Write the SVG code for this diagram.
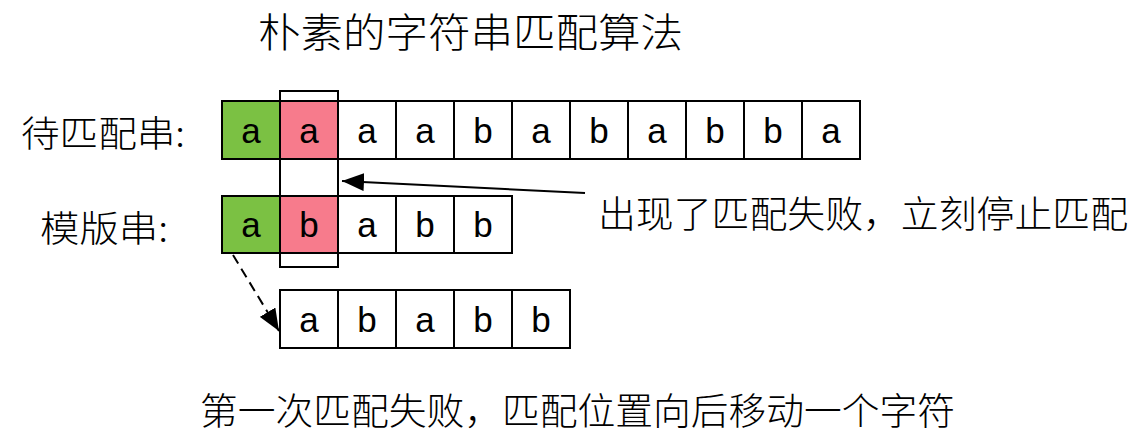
<svg xmlns="http://www.w3.org/2000/svg" width="1138" height="445" viewBox="0 0 1138 445">
<style>
.c{fill:#fff;stroke:#000;stroke-width:2}
.g{fill:#7bc143}
.p{fill:#f77b8c}
.l{font-family:"Liberation Sans","Noto Sans",sans-serif;font-size:35px;text-anchor:middle;fill:#000}
.z{font-family:"Noto Sans CJK SC",sans-serif;font-weight:300;fill:#000}
</style>
<defs>
<marker id="ah" markerWidth="24" markerHeight="18" refX="22" refY="9" orient="auto" markerUnits="userSpaceOnUse">
<path d="M0,0 L22,9 L0,18 Z" fill="#000"/>
</marker>
</defs>
<text class="z" x="258" y="47" font-size="40" textLength="425" lengthAdjust="spacingAndGlyphs">朴素的字符串匹配算法</text>
<text class="z" x="21" y="147" font-size="36" textLength="164" lengthAdjust="spacingAndGlyphs">待匹配串:</text>
<text class="z" x="40" y="242" font-size="36" textLength="128" lengthAdjust="spacingAndGlyphs">模版串:</text>
<text class="z" x="598" y="228" font-size="37" textLength="530" lengthAdjust="spacingAndGlyphs">出现了匹配失败，立刻停止匹配</text>
<text class="z" x="200" y="425" font-size="37" textLength="755" lengthAdjust="spacingAndGlyphs">第一次匹配失败，匹配位置向后移动一个字符</text>
<g id="highlight"><rect class="c" x="280" y="91" width="58" height="176"/></g>
<g id="text-row">
<rect class="c g" x="222" y="101" width="58" height="58"/>
<rect class="c p" x="280" y="101" width="58" height="58"/>
<rect class="c" x="338" y="101" width="58" height="58"/>
<rect class="c" x="396" y="101" width="58" height="58"/>
<rect class="c" x="454" y="101" width="58" height="58"/>
<rect class="c" x="512" y="101" width="58" height="58"/>
<rect class="c" x="570" y="101" width="58" height="58"/>
<rect class="c" x="628" y="101" width="58" height="58"/>
<rect class="c" x="686" y="101" width="58" height="58"/>
<rect class="c" x="744" y="101" width="58" height="58"/>
<rect class="c" x="802" y="101" width="58" height="58"/>
<text class="l" x="251" y="143">a</text>
<text class="l" x="309" y="143">a</text>
<text class="l" x="367" y="143">a</text>
<text class="l" x="425" y="143">a</text>
<text class="l" x="483" y="143">b</text>
<text class="l" x="541" y="143">a</text>
<text class="l" x="599" y="143">b</text>
<text class="l" x="657" y="143">a</text>
<text class="l" x="715" y="143">b</text>
<text class="l" x="773" y="143">b</text>
<text class="l" x="831" y="143">a</text>
</g>
<g id="pattern-row">
<rect class="c g" x="222" y="196" width="58" height="57"/>
<rect class="c p" x="280" y="196" width="58" height="57"/>
<rect class="c" x="338" y="196" width="58" height="57"/>
<rect class="c" x="396" y="196" width="58" height="57"/>
<rect class="c" x="454" y="196" width="58" height="57"/>
<text class="l" x="251" y="237">a</text>
<text class="l" x="309" y="237">b</text>
<text class="l" x="367" y="237">a</text>
<text class="l" x="425" y="237">b</text>
<text class="l" x="483" y="237">b</text>
</g>
<g id="shifted-row">
<rect class="c" x="280" y="290" width="58" height="58"/>
<rect class="c" x="338" y="290" width="58" height="58"/>
<rect class="c" x="396" y="290" width="58" height="58"/>
<rect class="c" x="454" y="290" width="58" height="58"/>
<rect class="c" x="512" y="290" width="58" height="58"/>
<text class="l" x="309" y="332">a</text>
<text class="l" x="367" y="332">b</text>
<text class="l" x="425" y="332">a</text>
<text class="l" x="483" y="332">b</text>
<text class="l" x="541" y="332">b</text>
</g>
<g id="connectors" fill="none" stroke="#000" stroke-width="2">
<line x1="585" y1="193" x2="342" y2="181" marker-end="url(#ah)"/>
<line x1="233" y1="255" x2="279" y2="331" stroke-dasharray="10,6" marker-end="url(#ah)"/>
</g>
</svg>
